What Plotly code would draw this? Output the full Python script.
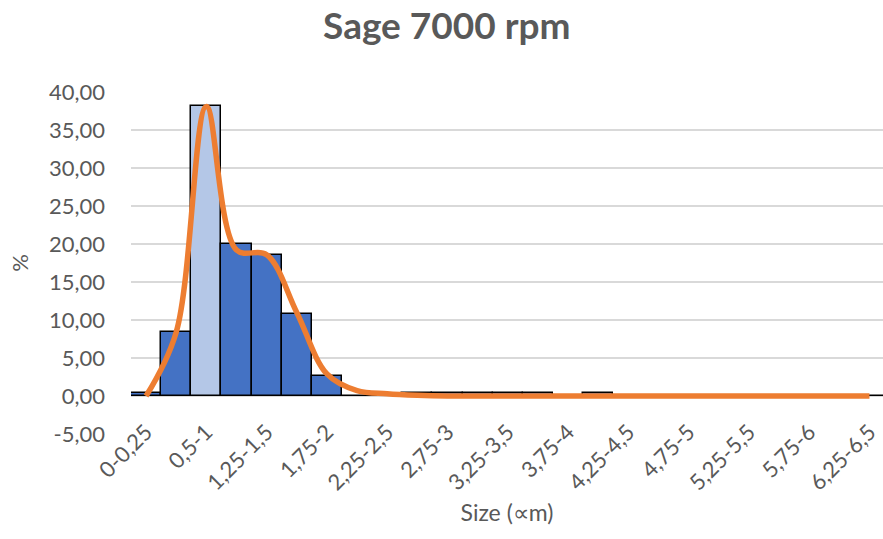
import plotly.graph_objects as go

# Size classes (µm) and share of particles in each class (%)
size_classes = [
    "0-0,25", "0,25-0,5", "0,5-1", "1-1,25", "1,25-1,5", "1,5-1,75", "1,75-2",
    "2-2,25", "2,25-2,5", "2,5-2,75", "2,75-3", "3-3,25", "3,25-3,5", "3,5-3,75",
    "3,75-4", "4-4,25", "4,25-4,5", "4,5-4,75", "4,75-5", "5-5,25", "5,25-5,5",
    "5,5-5,75", "5,75-6", "6-6,25", "6,25-6,5",
]
share_pct = [
    0.4, 8.4, 38.1, 20.0, 18.6, 10.8, 2.6,
    0.0, 0.3, 0.45, 0.45, 0.45, 0.45, 0.45,
    0.0, 0.45, 0.0, 0.0, 0.0, 0.0, 0.0,
    0.0, 0.0, 0.0, 0.0,
]
trend_pct = [
    0.0, 8.4, 38.1, 19.2, 18.6, 11.0, 2.9,
    0.7, 0.3, 0.1, 0.0, 0.0, 0.0, 0.0,
    0.0, 0.0, 0.0, 0.0, 0.0, 0.0, 0.0,
    0.0, 0.0, 0.0, 0.0,
]
highlight_class = "0,5-1"
tick_labels = size_classes[::2]
y_ticks = list(range(-5, 41, 5))

TEXT = "#595959"
FONT = "Lato"

bar_colors = ["#B4C7E7" if c == highlight_class else "#4472C4" for c in size_classes]

fig = go.Figure()
fig.add_trace(go.Bar(
    x=size_classes, y=share_pct,
    marker=dict(color=bar_colors, line=dict(color="#000000", width=1.5)),
    showlegend=False,
))
fig.add_trace(go.Scatter(
    x=size_classes, y=trend_pct, mode="lines",
    line=dict(color="#ED7D31", width=5.5, shape="spline", smoothing=1.0),
    showlegend=False,
))

fig.update_layout(
    width=883, height=539,
    margin=dict(l=131, r=0, t=92, b=105),
    paper_bgcolor="white", plot_bgcolor="white",
    bargap=0,
    title=dict(text="<b>Sage 7000 rpm</b>", x=0.506, xanchor="center",
               y=0.952, yanchor="middle",
               font=dict(family=FONT, size=37, color=TEXT)),
    font=dict(family=FONT, color=TEXT),
)
fig.update_xaxes(
    type="category", range=[-0.5, 24.45], automargin=False,
    tickmode="array", tickvals=tick_labels, ticktext=tick_labels,
    tickangle=-45, tickfont=dict(family=FONT, size=22, color=TEXT),
    ticks="", showgrid=False, showline=False, ticklabelstandoff=-20,
    title=dict(text="Size (∝m)", font=dict(family=FONT, size=23, color=TEXT), standoff=10),
)
fig.update_yaxes(
    range=[-5, 40], tickmode="array", tickvals=y_ticks, automargin=False,
    ticktext=[f"{v:.2f}".replace(".", ",") for v in y_ticks],
    tickfont=dict(family=FONT, size=22, color=TEXT),
    showgrid=True, gridcolor="#D9D9D9", gridwidth=1.5,
    zeroline=True, zerolinecolor="#D9D9D9", zerolinewidth=1.5,
    showline=False, ticks="", ticklabelstandoff=25,
    title=dict(text="%", font=dict(family=FONT, size=22, color=TEXT), standoff=14),
)

fig.write_html("out.html")
